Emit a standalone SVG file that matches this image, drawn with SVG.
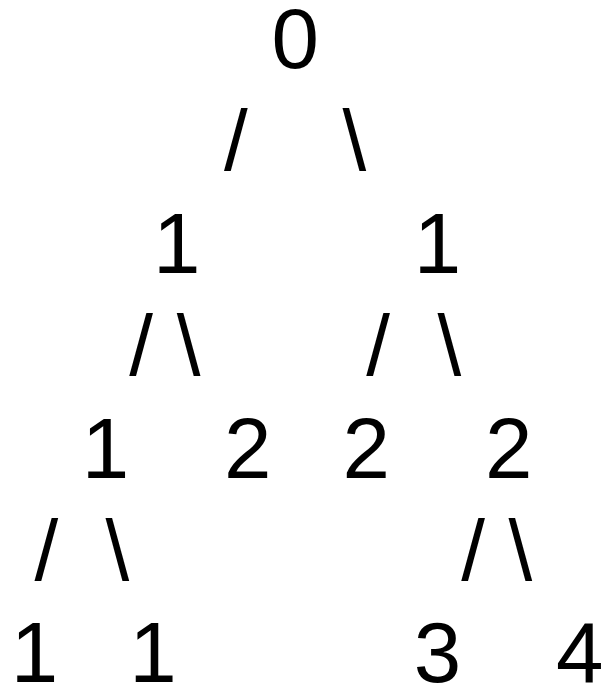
<svg xmlns="http://www.w3.org/2000/svg" width="607" height="687" viewBox="0 0 607 687">
<style>
  text { font-family: "Liberation Sans", Arial, sans-serif; font-size: 85.333px; fill: #000000; }
</style>
<rect x="0" y="0" width="607" height="687" fill="#ffffff"/>
<g id="connectors">
  <text x="224.1" y="170.4">/</text>
  <text x="342.6" y="170.4">\</text>
  <text x="129.2" y="375.2">/</text>
  <text x="176.7" y="375.2">\</text>
  <text x="366.3" y="375.2">/</text>
  <text x="437.4" y="375.2">\</text>
  <text x="34.4" y="580">/</text>
  <text x="105.5" y="580">\</text>
  <text x="461.2" y="580">/</text>
  <text x="508.6" y="580">\</text>
</g>
<g id="node-root"><text x="271.5" y="68">0</text></g>
<g id="node-l"><text x="152.9" y="272.8">1</text></g>
<g id="node-r"><text x="413.7" y="272.8">1</text></g>
<g id="node-ll"><text x="81.8" y="477.6">1</text></g>
<g id="node-lr"><text x="224.1" y="477.6">2</text></g>
<g id="node-rl"><text x="342.6" y="477.6">2</text></g>
<g id="node-rr"><text x="484.9" y="477.6">2</text></g>
<g id="node-lll"><text x="10.7" y="682.4">1</text></g>
<g id="node-llr"><text x="129.2" y="682.4">1</text></g>
<g id="node-rrl"><text x="413.7" y="682.4">3</text></g>
<g id="node-rrr"><text x="556" y="682.4">4</text></g>
</svg>
